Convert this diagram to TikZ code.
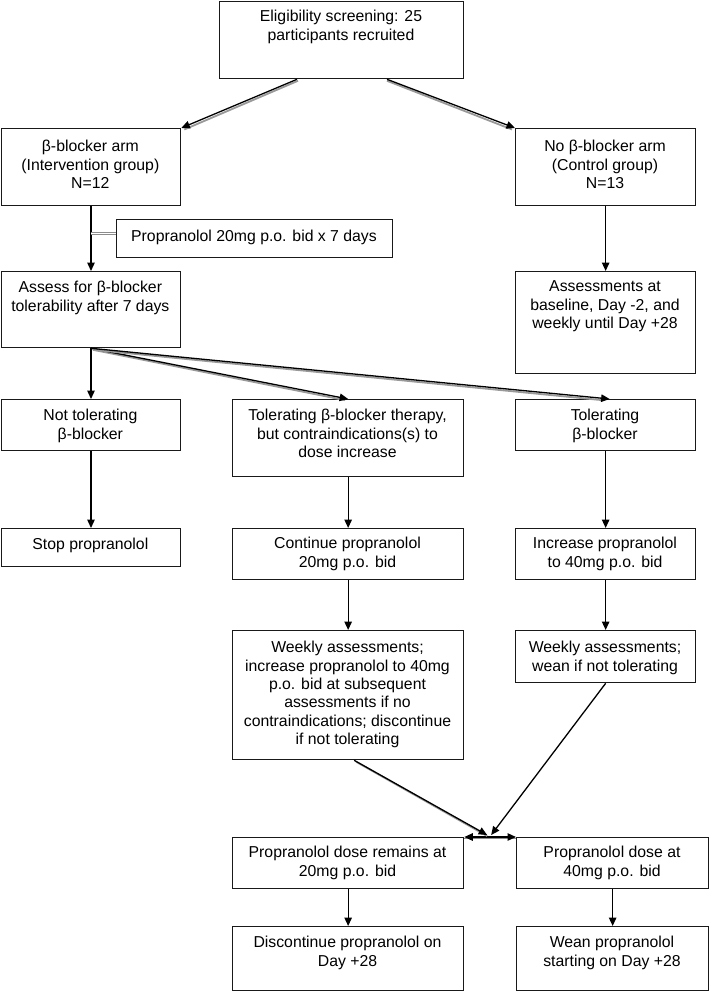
\documentclass[tikz,border=0pt]{standalone}
\usepackage{fontspec}
\setmainfont{Liberation Sans}
\usetikzlibrary{arrows.meta,calc}
\newcommand{\bx}[7]{%
  \pgfmathsetmacro\bw{#4-#2}\pgfmathsetmacro\bh{#5-#3}%
  \pgfmathsetmacro\bcx{(#2+#4)/2}\pgfmathsetmacro\bty{#6-6.5}%
  \node[box,minimum width=\bw pt,minimum height=\bh pt] (#1) at (#2,#3) {};
  \node[txt] (#1-t) at (\bcx,\bty) {\rule{0pt}{12pt}#7};}
\begin{document}
\begin{tikzpicture}[x=1pt,y=-1pt,
  box/.style={draw=black!90, line width=1.3pt, inner sep=0pt, anchor=north west},
  txt/.style={align=center, inner sep=0pt, anchor=north, font=\fontsize{15.8}{18.4}\selectfont},
  arr/.style={-{Triangle[length=8.5pt,width=7.5pt]}, line width=1.3pt, draw=black},
  shd/.style={draw=black!40, line width=1.8pt},
  dbl/.style={draw=black!45, double=white, double distance=1.4pt, line width=0.8pt},
]
\useasboundingbox (0,0) rectangle (709,991);
\bx{top}{219}{0.8}{463}{78}{16}{Eligibility screening: 25\\participants recruited}
\bx{arm1}{0.7}{128}{180}{205}{146}{β-blocker arm\\(Intervention group)\\N=12}
\bx{arm2}{515}{128}{695}{205}{146}{No β-blocker arm\\(Control group)\\N=13}
\bx{prop}{116}{219}{392}{257}{236}{Propranolol 20mg p.o. bid x 7 days}
\bx{assess}{0.7}{271}{180}{347}{287}{Assess for β-blocker\\tolerability after 7 days}
\bx{ctrl}{515}{271}{695}{373}{286}{Assessments at\\baseline, Day -2, and\\weekly until Day +28}
\bx{nt}{0.7}{399}{180}{450}{415}{Not tolerating\\β-blocker}
\bx{mid}{232}{399}{463}{476}{415}{Tolerating β-blocker therapy,\\but contraindications(s) to\\dose increase}
\bx{tol}{515}{399}{695}{450}{415}{Tolerating\\β-blocker}
\bx{stop}{0.7}{528}{180}{566}{544}{Stop propranolol}
\bx{cont}{232}{528}{463}{579}{543}{Continue propranolol\\20mg p.o. bid}
\bx{inc}{515}{528}{695}{579}{543}{Increase propranolol\\to 40mg p.o. bid}
\bx{wk1}{232}{630}{463}{759}{647}{Weekly assessments;\\increase propranolol to 40mg\\p.o. bid at subsequent\\assessments if no\\contraindications; discontinue\\if not tolerating}
\bx{wk2}{515}{630}{695}{682}{647}{Weekly assessments;\\wean if not tolerating}
\bx{rem}{232}{837}{463}{888}{852}{Propranolol dose remains at\\20mg p.o. bid}
\bx{dose}{516}{837}{708}{888}{852}{Propranolol dose at\\40mg p.o. bid}
\bx{disc}{232}{926}{463}{990}{942}{Discontinue propranolol on\\Day +28}
\bx{wean}{516}{926}{708}{990}{942}{Wean propranolol\\starting on Day +28}
% top split
\draw[shd] ($(top.south west)+(79,1.5)$) -- ($(arm1.north east)+(3,1.5)$);
\draw[arr] ($(top.south west)+(78,0)$) -- (arm1.north east);
\draw[shd] ($(top.south west)+(168,1.5)$) -- ($(arm2.north west)+(-3,1.5)$);
\draw[arr] ($(top.south west)+(168,0)$) -- (arm2.north west);
% arms
\draw[arr] (arm1.south) -- (assess.north);
\draw[dbl] ($(prop.west)+(0,-5)$) -- ($(arm1.south |- prop.west)+(0,-5)$);
\draw[arr] (arm2.south) -- (ctrl.north);
% fan
\draw[arr] (assess.south) -- (nt.north);
\draw[shd] ($(assess.south)+(2,1.5)$) -- ($(mid.north)+(-3,1.2)$);
\draw[arr] (assess.south) -- (mid.north);
\draw[shd] ($(assess.south)+(2,1.5)$) -- ($(tol.north)+(-3,1.2)$);
\draw[arr] (assess.south) -- ($(tol.north)+(4,0)$);
% downs
\draw[arr] (nt.south) -- (stop.north);
\draw[arr] (mid.south) -- (cont.north);
\draw[arr] (tol.south) -- (inc.north);
\draw[arr] (cont.south) -- (wk1.north);
\draw[arr] (inc.south) -- (wk2.north);
% converge
\coordinate (m) at ($(rem.north east)!0.5!(dose.north west)$);
\draw[dbl] (rem.north east) -- (dose.north west);
\draw[{Triangle[length=8.5pt,width=7.5pt]}-{Triangle[length=8.5pt,width=7.5pt]}, line width=1.3pt] (rem.north east) -- (dose.north west);
\draw[shd] ($(wk1.south)+(8,1.5)$) -- ($(m)+(-3,-1)$);
\draw[arr] ($(wk1.south)+(6,0)$) -- ($(m)+(-3,-2)$);
\draw[arr] (wk2.south) -- ($(m)+(1,-2)$);
\draw[arr] (rem.south) -- (disc.north);
\draw[arr] (dose.south) -- (wean.north);
\end{tikzpicture}
\end{document}
